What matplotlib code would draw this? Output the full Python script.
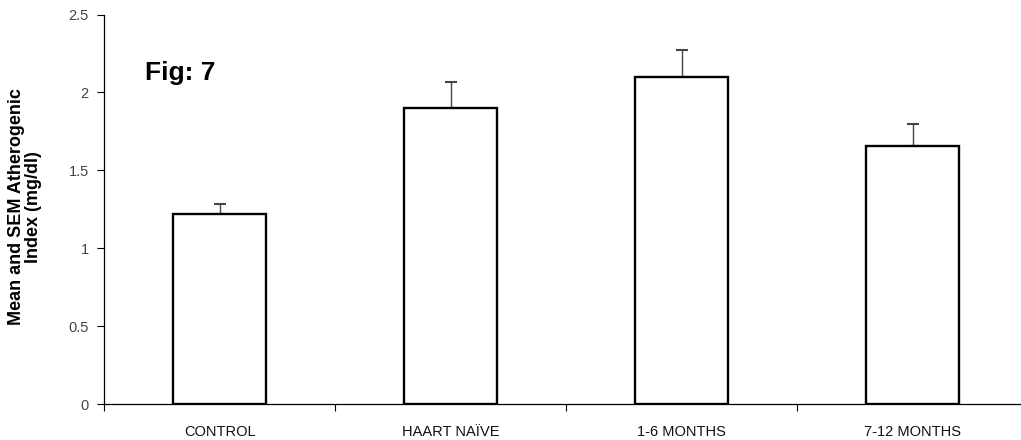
import matplotlib
import matplotlib.pyplot as plt
import numpy as np

matplotlib.use("Agg")

groups = ["CONTROL", "HAART NAÏVE", "1-6 MONTHS", "7-12 MONTHS"]
mean_index = [1.22, 1.90, 2.10, 1.66]
sem_index = [0.065, 0.17, 0.17, 0.135]
y_ticks = [0, 0.5, 1, 1.5, 2, 2.5]
y_tick_labels = ["0", "0.5", "1", "1.5", "2", "2.5"]

plt.rcParams["font.family"] = ["Liberation Sans", "DejaVu Sans"]

fig = plt.figure(figsize=(10.21, 4.40), dpi=100)
ax = fig.add_axes([0.102, 0.081, 0.905, 0.886])

centers = np.arange(len(groups)) + 0.5
ax.bar(centers, mean_index, width=0.40, color="white", edgecolor="black",
       linewidth=1.7, zorder=2)
ax.errorbar(centers, mean_index, yerr=[np.zeros(len(sem_index)), sem_index],
            fmt="none", ecolor="#444444", elinewidth=1.0, capsize=4,
            capthick=1.5, zorder=1)

ax.set_xlim(0, len(groups))
ax.set_ylim(0, 2.5)

# category boundaries carry the tick marks, centres carry the labels
ax.set_xticks(np.arange(len(groups)))
ax.set_xticklabels([])
ax.set_xticks(centers, minor=True)
ax.set_xticklabels(groups, minor=True, fontsize=10.5, color="#111111")
ax.tick_params(axis="x", which="major", direction="out", length=5, width=0.8)
ax.tick_params(axis="x", which="minor", length=0, pad=15)

ax.set_yticks(y_ticks)
ax.set_yticklabels(y_tick_labels, fontsize=10.5, color="#444444")
ax.tick_params(axis="y", direction="out", length=5, width=0.8, pad=6)

for name in ("top", "right"):
    ax.spines[name].set_visible(False)
for name in ("left", "bottom"):
    ax.spines[name].set_linewidth(0.9)

fig.text(0.024, 0.53, "Mean and SEM Atherogenic\nIndex (mg/dl)", rotation=90,
         ha="center", va="center", fontsize=13, fontweight="bold",
         linespacing=1.0)
ax.text(0.044, 0.85, "Fig: 7", transform=ax.transAxes, fontsize=19,
        fontweight="bold", ha="left", va="center")

fig.savefig("out.png", dpi=100)
